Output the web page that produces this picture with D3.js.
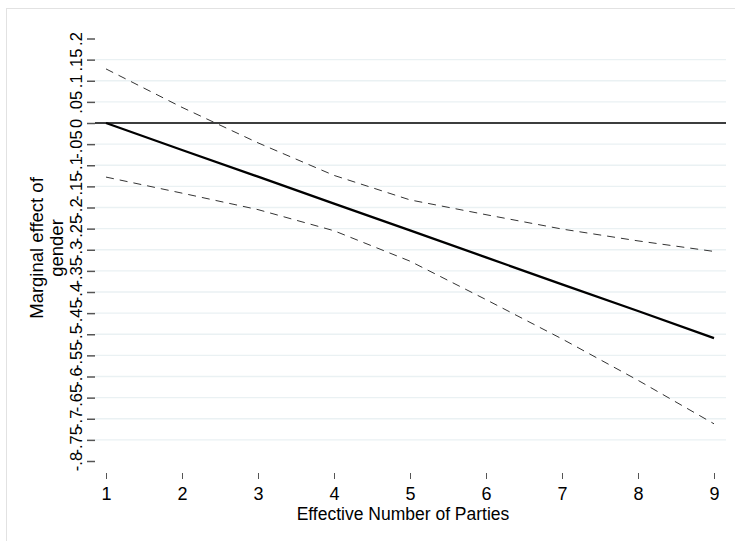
<!doctype html>
<html>
<head>
<meta charset="utf-8">
<title>Marginal effect of gender</title>
<style>
  body { margin: 0; background: #fff; }
  text { font-family: "Liberation Sans", Arial, sans-serif; fill: #000; }
  .grid line { stroke: #eaf1f3; stroke-width: 1.3px; }
  .tick line { stroke: #555; }
</style>
<script src="https://cdn.jsdelivr.net/npm/d3@7"></script>
</head>
<body>
<svg width="735" height="541"></svg>
<script>

var parties = [1, 2, 3, 4, 5, 6, 7, 8, 9];
var effect  = [0, -0.064, -0.127, -0.191, -0.254, -0.318, -0.382, -0.445, -0.509];
var upperCI = [0.128, 0.037, -0.047, -0.124, -0.182, -0.217, -0.251, -0.279, -0.304];
var lowerCI = [-0.128, -0.166, -0.205, -0.255, -0.327, -0.418, -0.511, -0.609, -0.712];

var yTicks = [0.2, 0.15, 0.1, 0.05, 0, -0.05, -0.1, -0.15, -0.2, -0.25, -0.3, -0.35,
              -0.4, -0.45, -0.5, -0.55, -0.6, -0.65, -0.7, -0.75, -0.8];
var yTickLabels = ['.2', '.15', '.1', '.05', '0', '-.05', '-.1', '-.15', '-.2', '-.25', '-.3', '-.35',
                   '-.4', '-.45', '-.5', '-.55', '-.6', '-.65', '-.7', '-.75', '-.8'];
var xTicks = [1, 2, 3, 4, 5, 6, 7, 8, 9];

var svg = d3.select('svg');

// outer frame, only left and top edges visible in the picture
svg.append('rect')
  .attr('x', 6.5).attr('y', 8.5)
  .attr('width', 900).attr('height', 900)
  .attr('fill', 'none')
  .attr('stroke', '#e2e2e2');

var x = d3.scaleLinear().domain([1, 9]).range([106, 714]);
var y = d3.scaleLinear().domain([0, -0.8]).range([123, 461]);

var plotLeft = 95, plotRight = 726;

// gridlines on inner ticks
svg.append('g').attr('class', 'grid')
  .selectAll('line')
  .data(yTicks.filter(function(d){ return d < 0.2 && d > -0.8; }))
  .enter().append('line')
  .attr('x1', plotLeft).attr('x2', plotRight)
  .attr('y1', function(d){ return y(d); })
  .attr('y2', function(d){ return y(d); });

// y axis
var yAxis = d3.axisLeft(y)
  .tickValues(yTicks)
  .tickSize(8)
  .tickPadding(4)
  .tickFormat(function(d, i){ return yTickLabels[i]; });

var gy = svg.append('g')
  .attr('transform', 'translate(' + plotLeft + ',0)')
  .call(yAxis);
gy.select('.domain').remove();
gy.selectAll('.tick line').attr('stroke-width', 1.5);
gy.selectAll('.tick text')
  .attr('font-size', 16.5)
  .attr('text-anchor', 'middle')
  .attr('dy', null)
  .attr('x', null)
  .attr('transform', 'translate(-14,0) rotate(-90) translate(0,-5)')
  .attr('y', 5.5)
  .style('font-family', '"Liberation Sans", Arial, sans-serif');

// x axis
var xAxis = d3.axisBottom(x)
  .tickValues(xTicks)
  .tickSize(6)
  .tickPadding(8)
  .tickFormat(d3.format('d'));

var gx = svg.append('g')
  .attr('transform', 'translate(0,473)')
  .call(xAxis);
gx.select('.domain').remove();
gx.selectAll('.tick text')
  .attr('font-size', 18)
  .style('font-family', '"Liberation Sans", Arial, sans-serif');

// zero reference line
svg.append('line')
  .attr('x1', plotLeft).attr('x2', plotRight)
  .attr('y1', y(0)).attr('y2', y(0))
  .attr('stroke', '#000')
  .attr('stroke-width', 1.6);

var line = function(vals) {
  return d3.line()
    .x(function(d, i){ return x(parties[i]); })
    .y(function(d){ return y(d); })(vals);
};

// confidence bounds
[upperCI, lowerCI].forEach(function(ci){
  svg.append('path')
    .attr('d', line(ci))
    .attr('fill', 'none')
    .attr('stroke', '#333')
    .attr('stroke-width', 1)
    .attr('stroke-dasharray', '8,6');
});

// marginal effect
svg.append('path')
  .attr('d', line(effect))
  .attr('fill', 'none')
  .attr('stroke', '#000')
  .attr('stroke-width', 2.3);

// axis titles
svg.append('text')
  .attr('x', 403).attr('y', 520)
  .attr('text-anchor', 'middle')
  .attr('font-size', 17.5)
  .text('Effective Number of Parties');

var yTitle = svg.append('text')
  .attr('transform', 'translate(0,248) rotate(-90)')
  .attr('text-anchor', 'middle')
  .attr('font-size', 18.5);
yTitle.append('tspan').attr('x', 0).attr('y', 43).text('Marginal effect of');
yTitle.append('tspan').attr('x', 0).attr('y', 63).text('gender');

</script>
</body>
</html>
